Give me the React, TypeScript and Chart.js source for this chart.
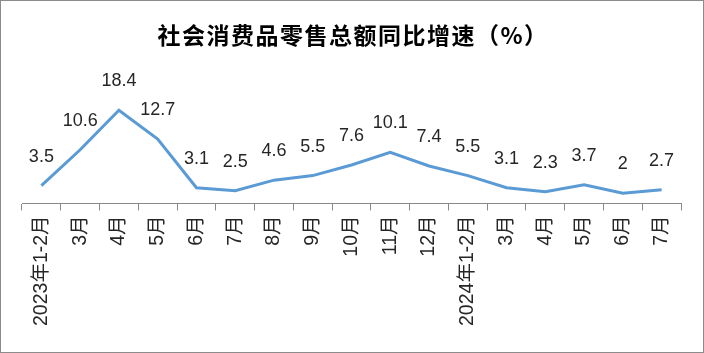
import React, { useEffect, useRef } from "react";
import { Chart, registerables } from "chart.js";

Chart.register(...registerables);

const categories = [
  "2023年1-2月", "3月", "4月", "5月", "6月", "7月", "8月", "9月", "10月", "11月", "12月",
  "2024年1-2月", "3月", "4月", "5月", "6月", "7月",
];
const growth = [3.5, 10.6, 18.4, 12.7, 3.1, 2.5, 4.6, 5.5, 7.6, 10.1, 7.4, 5.5, 3.1, 2.3, 3.7, 2, 2.7];
const valueLabels = ["3.5", "10.6", "18.4", "12.7", "3.1", "2.5", "4.6", "5.5", "7.6", "10.1", "7.4", "5.5", "3.1", "2.3", "3.7", "2", "2.7"];
const titleText = "社会消费品零售总额同比增速（%）";

const FONT = "'Liberation Sans', 'Noto Sans CJK SC', sans-serif";

const labelPlugin = {
  id: "valueLabels",
  afterDatasetsDraw(chart: any) {
    const ctx = chart.ctx;
    const meta = chart.getDatasetMeta(0);
    ctx.save();
    ctx.font = `18px ${FONT}`;
    ctx.fillStyle = "#262626";
    ctx.textAlign = "center";
    ctx.textBaseline = "middle";
    meta.data.forEach((pt: any, i: number) => {
      ctx.fillText(valueLabels[i], pt.x, pt.y - 29);
    });
    ctx.restore();
  },
};

const titlePlugin = {
  id: "spacedTitle",
  afterDraw(chart: any) {
    const ctx = chart.ctx;
    ctx.save();
    ctx.font = `bold 23px 'Noto Sans CJK SC', sans-serif`;
    (ctx as any).letterSpacing = "1.5px";
    ctx.fillStyle = "#000";
    ctx.textAlign = "center";
    ctx.textBaseline = "middle";
    ctx.fillText(titleText, chart.width / 2 + 1, 34);
    (ctx as any).letterSpacing = "0px";
    ctx.restore();
  },
};

export default function App() {
  const ref = useRef<HTMLCanvasElement>(null);
  useEffect(() => {
    document.body.style.margin = "0";
    const chart = new Chart(ref.current!, {
      type: "line",
      data: {
        labels: categories,
        datasets: [
          {
            data: growth,
            borderColor: "#5B9BD5",
            borderWidth: 3,
            pointRadius: 0,
            tension: 0,
            fill: false,
          },
        ],
      },
      options: {
        animation: false,
        responsive: false,
        maintainAspectRatio: false,
        layout: { padding: { left: 21, right: 22, top: 0, bottom: 21 } },
        plugins: {
          legend: { display: false },
          tooltip: { enabled: false },
          title: {
            display: true,
            text: titleText,
            color: "rgba(0,0,0,0)",
            font: { size: 23, weight: "bold", family: "'Noto Sans CJK SC', sans-serif" },
            padding: { top: 19, bottom: 52 },
          },
        },
        scales: {
          x: {
            offset: true,
            grid: {
              display: true,
              offset: true,
              drawOnChartArea: false,
              drawTicks: true,
              tickLength: 7,
              color: "#898989",
            },
            border: { display: true, color: "#898989", width: 1 },
            ticks: {
              autoSkip: false,
              maxRotation: 90,
              minRotation: 90,
              padding: 5,
              color: "#262626",
              font: { size: 19.5, family: FONT },
            },
          },
          y: {
            display: false,
            min: 0,
            max: 20.5,
          },
        },
      },
      plugins: [labelPlugin, titlePlugin],
    });
    return () => chart.destroy();
  }, []);
  return (
    <div
      style={{
        width: 704,
        height: 353,
        boxSizing: "border-box",
        border: "1px solid #8c8c8c",
        position: "relative",
        background: "#fff",
      }}
    >
      <canvas ref={ref} width={702} height={351} style={{ display: "block" }} />
    </div>
  );
}
